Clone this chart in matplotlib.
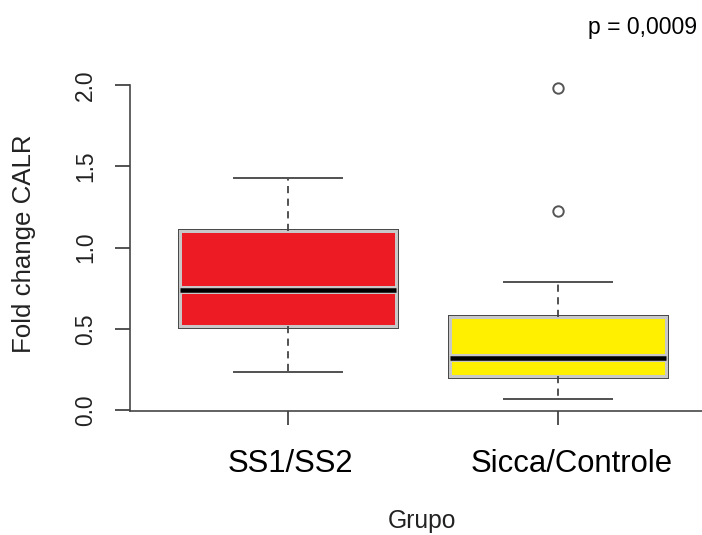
import matplotlib
matplotlib.use("Agg")
import matplotlib.pyplot as plt
import matplotlib.patheffects as pe

plt.rcParams['font.family'] = ['Liberation Sans', 'DejaVu Sans']

# Group labels and box statistics (Fold change CALR)
groups = ["SS1/SS2", "Sicca/Controle"]
box_colors = ["#ED1C24", "#FFF000"]
lower_whisker = [0.232, 0.068]
q1 = [0.519, 0.209]
median = [0.738, 0.322]
q3 = [1.103, 0.574]
upper_whisker = [1.426, 0.786]
outliers = [[], [1.225, 1.98]]
y_ticks = [0.0, 0.5, 1.0, 1.5, 2.0]
y_tick_labels = ["0.0", "0.5", "1.0", "1.5", "2.0"]
p_label = "p = 0,0009"

PX = 0.72  # points per pixel at 100 dpi
W, H = 702, 535

fig = plt.figure(figsize=(W / 100, H / 100), dpi=100)
ax = fig.add_axes([130 / W, (H - 411.4) / H, 572 / W, 335.5 / H])

stats = []
for i in range(len(groups)):
    stats.append(dict(label=groups[i], whislo=lower_whisker[i], q1=q1[i],
                      med=median[i], q3=q3[i], whishi=upper_whisker[i],
                      fliers=outliers[i]))

positions = list(range(1, len(groups) + 1))
bp = ax.bxp(stats, positions=positions, widths=0.8, capwidths=0.4,
            patch_artist=True, showfliers=True,
            boxprops=dict(edgecolor="#c8c8c8", linewidth=3 * PX),
            medianprops=dict(color="black", linewidth=4.5 * PX, solid_capstyle="butt"),
            whiskerprops=dict(color="#444444", linewidth=1.8 * PX,
                              linestyle=(0, (4, 3))),
            capprops=dict(color="#555555", linewidth=2 * PX),
            flierprops=dict(marker="o", markerfacecolor="none",
                            markeredgecolor="#555555", markersize=7.5,
                            markeredgewidth=1.4))

for patch, col in zip(bp["boxes"], box_colors):
    patch.set_facecolor(col)
    patch.set_path_effects([pe.Stroke(linewidth=5 * PX, foreground="#4a4a4a"),
                            pe.Normal()])
for med in bp["medians"]:
    med.set_path_effects([pe.Stroke(linewidth=8 * PX, foreground="#c8c8c8"),
                          pe.Normal()])

ax.set_xlim(0.416, 2.533)
ax.set_ylim(-0.0085, 2.056)

for s in ["top", "right"]:
    ax.spines[s].set_visible(False)
for s in ["left", "bottom"]:
    ax.spines[s].set_color("#404040")
    ax.spines[s].set_linewidth(1.6 * PX)
ax.spines["left"].set_bounds(-0.0085, 2.0)

ax.set_yticks(y_ticks)
ax.set_yticklabels(y_tick_labels, rotation=90, va="center", fontsize=16.4)
ax.tick_params(axis="y", length=15 * PX, width=1.8 * PX, color="#444444",
               pad=18 * PX, labelcolor="#222222")

ax.set_xticks(positions)
ax.set_xticklabels([])
ax.tick_params(axis="x", length=14 * PX, width=1.8 * PX, color="#444444")

# Group names below the axis
label_x = [1.01, 2.052]
for lx, g in zip(label_x, groups):
    x_px = 130 + (lx - 0.416) * 270.2
    fig.text(x_px / W, (H - 472) / H, g, ha="center", va="baseline",
             fontsize=22.3, color="black")

fig.text(422 / W, (H - 528) / H, "Grupo", ha="center", va="baseline",
         fontsize=17.7, color="#222222")
fig.text(24 / W, (H - 244) / H, "Fold change CALR", rotation=90,
         ha="center", va="center", fontsize=18.6, color="#222222")
fig.text(643 / W, (H - 34) / H, p_label, ha="center", va="baseline",
         fontsize=16.6, color="black")

fig.savefig("out.png", dpi=100)
